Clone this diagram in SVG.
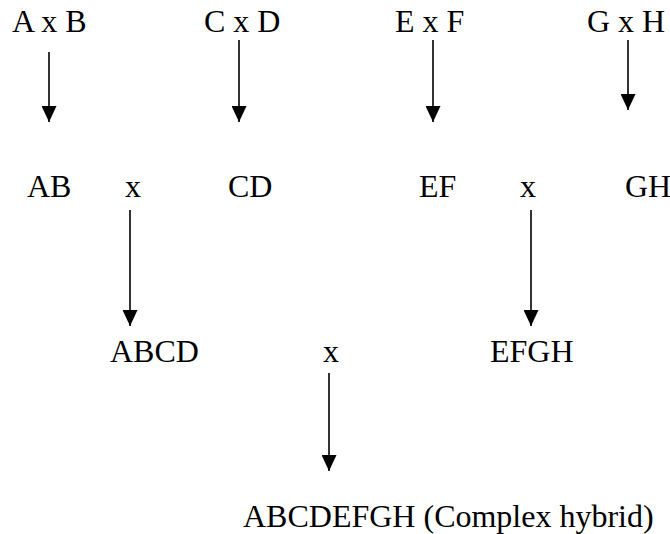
<svg xmlns="http://www.w3.org/2000/svg" width="670" height="534" viewBox="0 0 670 534">
<style>
text{font-family:'Liberation Serif','Times New Roman',serif;font-size:32px;fill:#000}
.c line{stroke:#000;stroke-width:1.6}
</style>
<defs>
<marker id="ah" markerUnits="userSpaceOnUse" markerWidth="16" markerHeight="15" refX="16" refY="7.5" orient="auto" viewBox="0 0 16 15">
<path d="M0,0 L16,7.5 L0,15 z" fill="#000"/>
</marker>
</defs>
<rect width="670" height="534" fill="#fff"/>
<g id="n-AxB"><text x="12" y="32">A x B</text></g>
<g id="n-CxD"><text x="204" y="32">C x D</text></g>
<g id="n-ExF"><text x="395" y="32">E x F</text></g>
<g id="n-GxH"><text x="587" y="32">G x H</text></g>
<g id="n-AB"><text x="27" y="197">AB</text></g>
<g id="n-x1"><text x="125" y="197">x</text></g>
<g id="n-CD"><text x="228" y="197">CD</text></g>
<g id="n-EF"><text x="419" y="197">EF</text></g>
<g id="n-x2"><text x="520" y="197">x</text></g>
<g id="n-GH"><text x="625" y="197">GH</text></g>
<g id="n-ABCD"><text x="110" y="362">ABCD</text></g>
<g id="n-x3"><text x="323" y="362">x</text></g>
<g id="n-EFGH"><text x="490" y="362">EFGH</text></g>
<g id="n-final"><text x="243" y="527">ABCDEFGH (Complex hybrid)</text></g>
<g id="connectors" class="c">
<line x1="49" y1="52" x2="49" y2="122" marker-end="url(#ah)"/>
<line x1="239" y1="40" x2="239" y2="122" marker-end="url(#ah)"/>
<line x1="433" y1="40" x2="433" y2="122" marker-end="url(#ah)"/>
<line x1="628" y1="40" x2="628" y2="110" marker-end="url(#ah)"/>
<line x1="130" y1="210" x2="130" y2="326" marker-end="url(#ah)"/>
<line x1="531" y1="210" x2="531" y2="326" marker-end="url(#ah)"/>
<line x1="329" y1="373" x2="329" y2="471" marker-end="url(#ah)"/>
</g>
</svg>
